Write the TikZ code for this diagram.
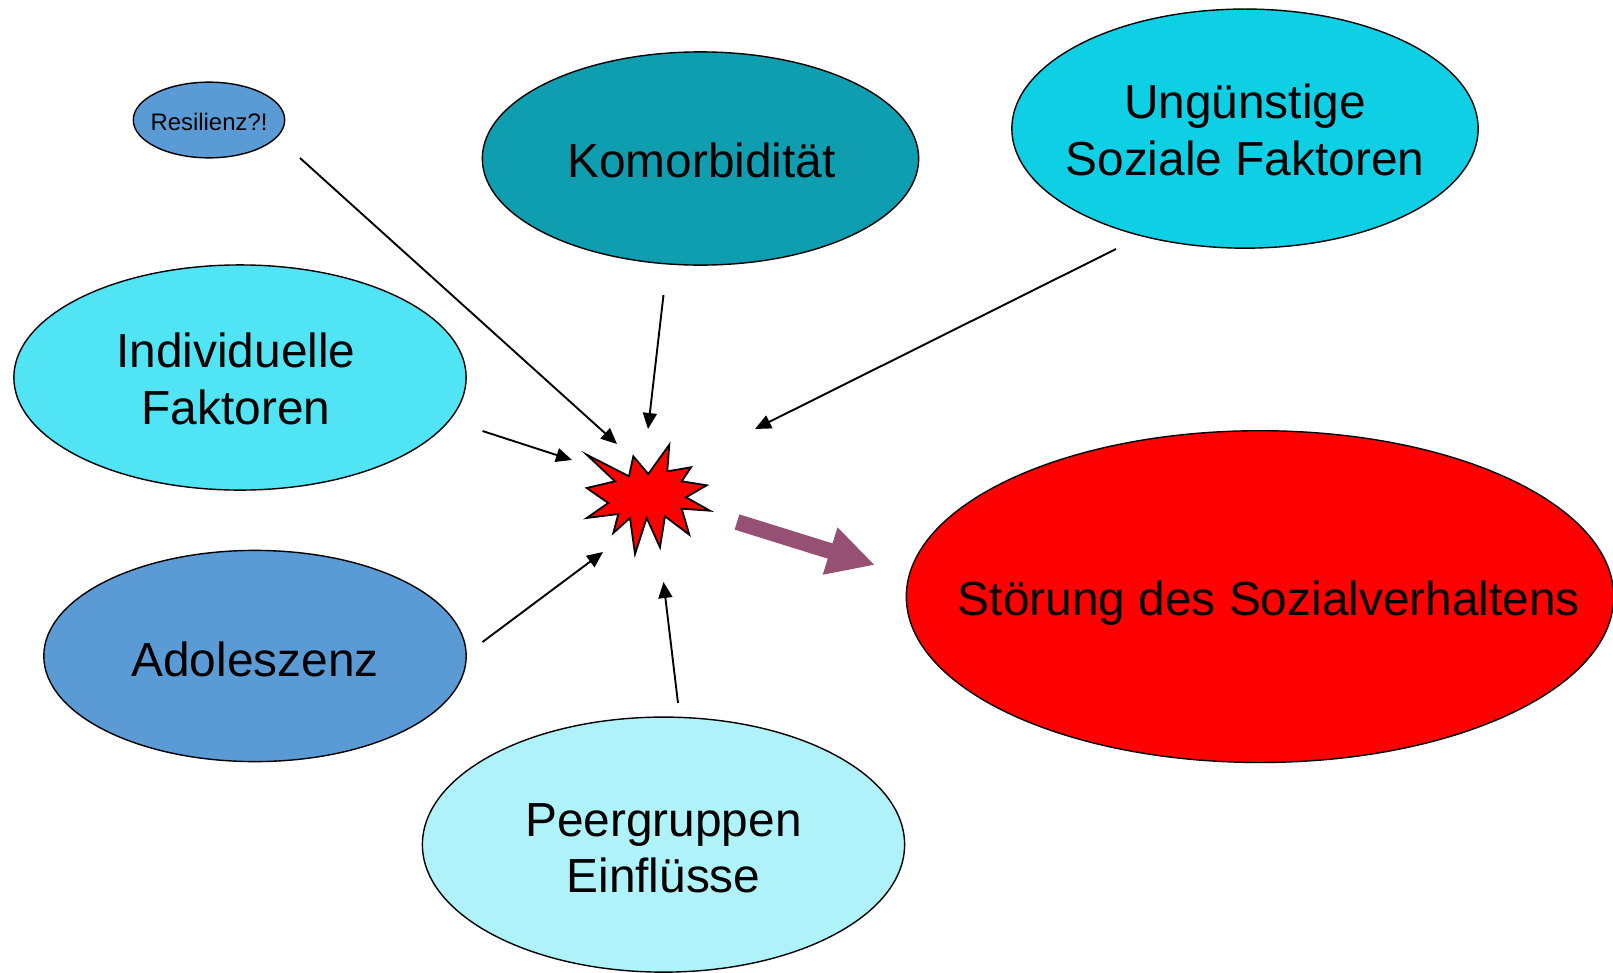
\documentclass[tikz,border=0pt]{standalone}
\usepackage{fontspec}
\setmainfont{Liberation Sans}
\usetikzlibrary{arrows.meta,shapes.geometric}
\definecolor{blau}{RGB}{91,155,213}
\definecolor{petrol}{RGB}{14,158,176}
\definecolor{tuerkis}{RGB}{14,207,228}
\definecolor{hellblau}{RGB}{80,228,245}
\definecolor{eisblau}{RGB}{176,242,249}
\definecolor{lila}{RGB}{150,80,116}
\newcommand\grosstxt{\fontsize{48}{56.5}\selectfont}
\newcommand\kleintxt{\fontsize{24}{28}\selectfont}

\begin{document}
\begin{tikzpicture}[x=1bp, y=-1bp,
	blob/.style={ellipse, draw=black, line width=1.4bp, inner sep=0pt},
	feed/.style={line width=1.9bp, -{Triangle[length=16bp, width=14bp]}},
	push/.style={line width=16bp, color=lila, -{Triangle[length=47bp, width=46bp]}}]
			%%%%% START %%%%%
			
			\useasboundingbox (0, 0) rectangle (1613, 972);
			
			\node[blob, fill=blau, minimum width=152, minimum height=76] (resil) at (209, 120) {};
			\node[font=\kleintxt] (resil-txt) at (209, 121.5) {Resilienz?!};
			
			\node[blob, fill=petrol, minimum width=438, minimum height=214] (komo) at (700.5, 158.5) {};
			\node[font=\grosstxt] (komo-txt) at (701.5, 160) {Komorbidität};
			
			\node[blob, fill=tuerkis, minimum width=468, minimum height=240] (ungue) at (1245, 128.6) {};
			\node[font=\grosstxt, align=center] (ungue-txt) at (1245, 130) {Ungünstige\\Soziale Faktoren};
			
			\node[blob, fill=hellblau, minimum width=454, minimum height=226] (indiv) at (240, 377.5) {};
			\node[font=\grosstxt, align=center] (indiv-txt) at (236, 379) {Individuelle\\Faktoren};
			
			\node[blob, fill=blau, minimum width=424, minimum height=212] (adol) at (255, 656) {};
			\node[font=\grosstxt] (adol-txt) at (255, 659) {Adoleszenz};
			
			\node[blob, fill=eisblau, minimum width=484, minimum height=256] (peer) at (663.5, 844.6) {};
			\node[font=\grosstxt, align=center] (peer-txt) at (663.5, 848) {Peergruppen\\Einflüsse};
			
			\node[blob, fill=red, minimum width=710, minimum height=333] (stoer) at (1260, 596.6) {};
			\node[font=\grosstxt] (stoer-txt) at (1269, 603) {Störung des Sozialverhaltens};
			
			% Knall in der Mitte
			\draw[fill=red, line width=1.8bp, line join=miter]
				(586.7, 454.7) -- (629, 476.3) -- (633.3, 456.3) -- (648.3, 474)
				-- (669.3, 444.7) -- (667.3, 471.3) -- (691, 467.3) -- (681.7, 481.3)
				-- (706.7, 485.3) -- (686, 497.3) -- (710, 510.7) -- (681.7, 508.7)
				-- (689.3, 534.7) -- (665, 516.3) -- (660, 547.3) -- (646.7, 518)
				-- (635, 554) -- (630, 518) -- (613.3, 533) -- (618.3, 514)
				-- (586.7, 518) -- (608.3, 503) -- (586.7, 488) -- (615, 481.3) -- cycle;
			
			% freie Enden der Pfeile
			\coordinate (resil-aus) at (300, 158);
			\coordinate (resil-ein) at (617, 444);
			\coordinate (komo-aus) at (663.5, 295);
			\coordinate (komo-ein) at (648, 429);
			\coordinate (ungue-aus) at (1116, 249);
			\coordinate (ungue-ein) at (755, 429);
			\coordinate (indiv-aus) at (482.5, 431);
			\coordinate (indiv-ein) at (572, 460);
			\coordinate (adol-aus) at (482.5, 642);
			\coordinate (adol-ein) at (603, 552);
			\coordinate (peer-aus) at (678, 703);
			\coordinate (peer-ein) at (663.5, 582);
			\coordinate (knall-aus) at (737, 522);
			\coordinate (stoer-ein) at (875, 565);
			
			\draw[feed] (resil-aus) -- (resil-ein);
			\draw[feed] (komo-aus) -- (komo-ein);
			\draw[feed] (ungue-aus) -- (ungue-ein);
			\draw[feed] (indiv-aus) -- (indiv-ein);
			\draw[feed] (adol-aus) -- (adol-ein);
			\draw[feed] (peer-aus) -- (peer-ein);
			
			\draw[push] (knall-aus) -- (stoer-ein);
			
			%%%%% END %%%%%
\end{tikzpicture}
\end{document}
